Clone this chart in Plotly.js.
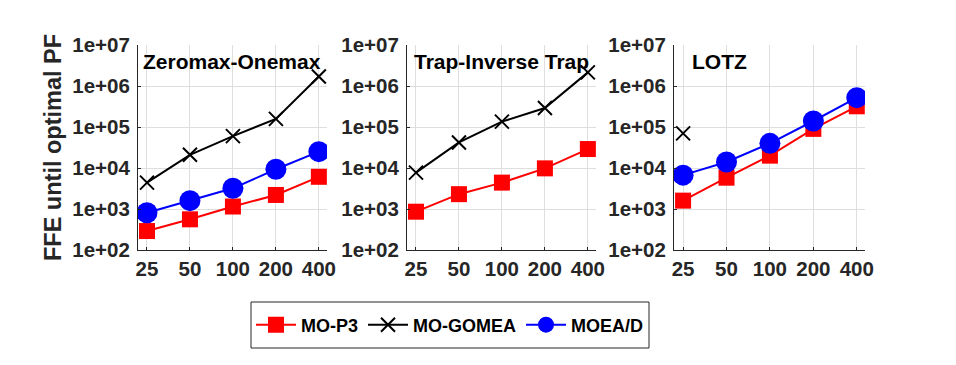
<!DOCTYPE html>
<html>
<head>
<meta charset="utf-8">
<script src="https://cdn.plot.ly/plotly-3.0.1.min.js"></script>
<style>html,body{margin:0;padding:0;background:#fff;}#chart{width:956px;height:365px;}</style>
</head>
<body>
<div id="chart"></div>
<script>
// Data
const problemSizes = [25, 50, 100, 200, 400];
const tickLabels = ['25', '50', '100', '200', '400'];
const panelTitles = ['Zeromax-Onemax', 'Trap-Inverse Trap', 'LOTZ'];
const yTicks = [1e2, 1e3, 1e4, 1e5, 1e6, 1e7];
const yTickLabels = ['1e+02', '1e+03', '1e+04', '1e+05', '1e+06', '1e+07'];

// Zeromax-Onemax
const zmP3 = [290, 560, 1150, 2200, 6100];
const zmGomea = [4400, 21000, 60000, 158000, 1700000];
const zmMoead = [810, 1600, 3200, 9300, 25000];
// Trap-Inverse Trap
const trP3 = [860, 2300, 4400, 9800, 29000];
const trGomea = [7700, 42000, 135000, 290000, 2150000];
// LOTZ
const lzP3 = [1600, 5800, 20000, 90000, 320000];
const lzGomeaSizes = [25];
const lzGomea = [70000];
const lzMoead = [6700, 14000, 40000, 140000, 520000];

const W = 956, H = 365;
const FONT = 'Liberation Sans, Arial, sans-serif';
const xDom = [[138, 327], [407, 596], [674, 865]];
const yDom = [1 - 250 / H, 1 - 45 / H];

const red = '#ff0000', blk = '#000000', blu = '#0000ff';
function p3(x, y, ax, show) {
  return {x: x, y: y, xaxis: 'x' + ax, yaxis: 'y' + ax, name: '<b>MO-P3</b>', mode: 'lines+markers',
    line: {color: red, width: 2}, marker: {symbol: 'square', size: 16, color: red}, showlegend: show, legendrank: 1};
}
function gom(x, y, ax, show) {
  return {x: x, y: y, xaxis: 'x' + ax, yaxis: 'y' + ax, name: '<b>MO-GOMEA</b>', mode: 'lines+markers',
    line: {color: blk, width: 2}, marker: {symbol: 'x-thin', size: 14, color: blk, line: {width: 2, color: blk}}, showlegend: show, legendrank: 2};
}
function moe(x, y, ax, show) {
  return {x: x, y: y, xaxis: 'x' + ax, yaxis: 'y' + ax, name: '<b>MOEA/D</b>', mode: 'lines+markers',
    line: {color: blu, width: 2}, marker: {symbol: 'circle', size: 21, color: blu}, showlegend: show, legendrank: 3};
}

const traces = [
  p3(problemSizes, zmP3, '', true),
  gom(problemSizes, zmGomea, '', true),
  moe(problemSizes, zmMoead, '', true),
  p3(problemSizes, trP3, '2', false),
  gom(problemSizes, trGomea, '2', false),
  p3(problemSizes, lzP3, '3', false),
  gom(lzGomeaSizes, lzGomea, '3', false),
  moe(problemSizes, lzMoead, '3', false)
];

const tickFont = {family: FONT, size: 20.5, color: '#262626'};
const xr = [Math.log10(25) - 0.063, Math.log10(400) + 0.057];
function xa(i) {
  return {type: 'log', domain: [xDom[i][0] / W, xDom[i][1] / W], range: xr,
    tickvals: problemSizes, ticktext: tickLabels.map(s => '<b>' + s + '</b>'),
    showgrid: true, gridcolor: '#dedede', gridwidth: 1, zeroline: false,
    showline: true, linecolor: '#262626', linewidth: 1,
    ticks: 'inside', ticklen: 3, tickcolor: '#262626', tickfont: tickFont,
    anchor: i === 0 ? 'y' : 'y' + (i + 1)};
}
function ya(i) {
  return {type: 'log', domain: yDom, range: [2, 7],
    tickvals: yTicks, ticktext: yTickLabels.map(s => '<b>' + s + '</b>'),
    showgrid: true, gridcolor: '#dedede', gridwidth: 1, zeroline: false,
    showline: true, linecolor: '#262626', linewidth: 1,
    ticks: 'inside', ticklen: 3, tickcolor: '#262626', tickfont: tickFont,
    ticklabelstandoff: 3,
    anchor: i === 0 ? 'x' : 'x' + (i + 1)};
}

const layout = {
  width: W, height: H, margin: {l: 0, r: 0, t: 0, b: 0},
  paper_bgcolor: '#ffffff', plot_bgcolor: '#ffffff',
  xaxis: xa(0), xaxis2: xa(1), xaxis3: xa(2),
  yaxis: Object.assign(ya(0), {title: {text: '<b>FFE until optimal PF</b>', font: {family: FONT, size: 23.5, color: '#262626'}, standoff: 4}}),
  yaxis2: ya(1), yaxis3: ya(2),
  showlegend: true,
  legend: {orientation: 'h', x: 251 / W, xanchor: 'left', y: 1 - 325 / H, yanchor: 'middle',
    borderwidth: 0, bgcolor: 'rgba(0,0,0,0)',
    font: {family: FONT, size: 18, color: '#000'}, itemwidth: 40, tracegroupgap: 0},
  shapes: [{type: 'rect', xref: 'paper', yref: 'paper', x0: 251 / W, x1: 649 / W, y0: 1 - 348 / H, y1: 1 - 302 / H,
    line: {color: '#262626', width: 1}, fillcolor: 'rgba(0,0,0,0)'}],
  annotations: panelTitles.map((t, i) => ({
    text: '<b>' + t + '</b>', xref: 'paper', yref: 'paper',
    x: [141 / W, 412 / W, 690 / W][i], y: 1 - 62 / H, xanchor: 'left', yanchor: 'middle',
    showarrow: false, font: {family: FONT, size: 21, color: '#000'}
  }))
};

Plotly.newPlot('chart', traces, layout, {displayModeBar: false, staticPlot: true});
</script>
</body>
</html>
